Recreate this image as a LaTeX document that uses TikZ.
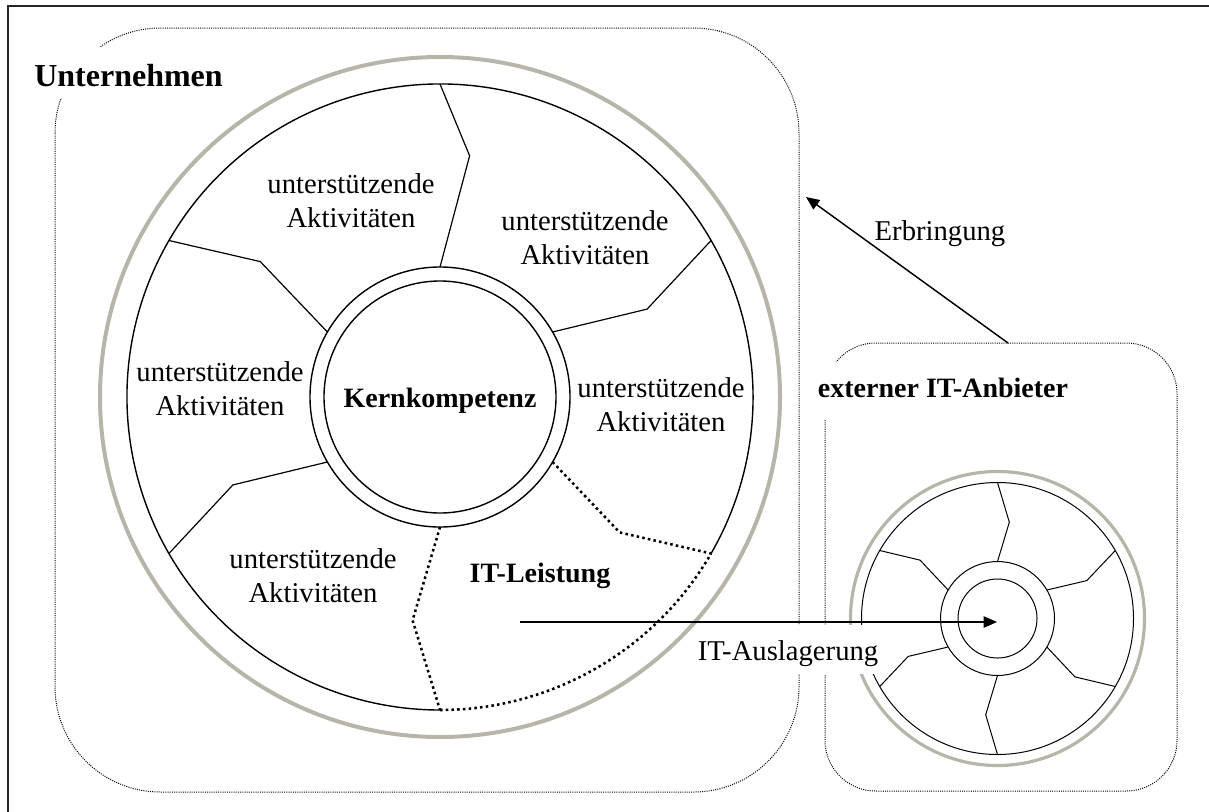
\documentclass[tikz,border=0pt]{standalone}
\usepackage{fontspec}
\setmainfont{Liberation Serif}
\usetikzlibrary{arrows.meta}
\definecolor{ringgray}{RGB}{183,181,170}
\tikzset{
  frameline/.style={draw=black!85, line width=1.5pt},
  boxdots/.style={draw=black, line width=0.75pt, dash pattern=on 0.75pt off 0.9pt},
  itdots/.style={draw=black, line width=1.9pt, dash pattern=on 1.9pt off 2.4pt},
  bigring/.style={draw=ringgray, line width=3pt},
  smallring/.style={draw=ringgray, line width=2.4pt},
  bigline/.style={draw=black, line width=1.05pt},
  smallline/.style={draw=black, line width=0.75pt},
  txt/.style={font=\fontsize{21.5pt}{25pt}\selectfont, align=center, anchor=base, inner sep=1pt},
  boldtxt/.style={txt, font=\fontsize{21pt}{25pt}\selectfont\bfseries},
  arr/.style={draw=black, line width=1.1pt, -{Triangle[length=10pt,width=8.5pt]}},
}
\begin{document}
\begin{tikzpicture}[x=0.75pt, y=-0.75pt]
\useasboundingbox (0,0) rectangle (1209,811);
\clip (0,0) rectangle (1209,811);

% outer frame
\draw[frameline] (8,6) rectangle (1240,840);

% company and provider boundaries
\draw[boxdots, rounded corners=79pt] (55,28) rectangle (799,792);
\draw[boxdots, rounded corners=38pt] (825,343) rectangle (1177,791);

% company wheel
\begin{scope}[shift={(440,397)}, yscale=-1]
  \draw[bigring] (0,0) circle[radius=340];
  \draw[bigline] (-30:313) arc[start angle=-30, end angle=270, radius=313];
  \draw[itdots] (-90:313) arc[start angle=-90, end angle=-30, radius=313];
  \draw[bigline] (0,0) circle[radius=130];
  \draw[bigline] (0,0) circle[radius=116];
  \draw[bigline, line width=0.9pt] (90:130) -- (83:243) -- (90:313);
  \foreach \a in {30,150,-150}
    \draw[bigline, line width=0.9pt] (\a:130) -- ({\a-7}:225) -- (\a:313);
  \foreach \a in {-30,-90}
    \draw[itdots] (\a:130) -- ({\a-7}:225) -- (\a:313);
\end{scope}

% provider wheel
\begin{scope}[shift={(997.5,618.5)}, yscale=-1]
  \draw[smallring] (0,0) circle[radius=147];
  \draw[smallline] (0,0) circle[radius=136];
  \draw[smallline] (0,0) circle[radius=57];
  \draw[smallline] (0,0) circle[radius=39.5];
  \foreach \a in {90,30,-30,-90,-150,150}
    \draw[smallline] (\a:57) -- ({\a-7}:97) -- (\a:136);
\end{scope}

% labels
\node[boldtxt, font=\fontsize{24pt}{28pt}\selectfont\bfseries, fill=white,
      inner xsep=3pt, inner ysep=9pt, text height=20pt] (unternehmen) at (128.5,86) {Unternehmen};
\node[boldtxt, fill=white, inner xsep=3pt, inner ysep=4pt, text height=22pt, text depth=13pt] (anbieter) at (943,397) {externer IT-Anbieter};
\node[boldtxt] (kern) at (440,407) {Kernkompetenz};
\node[boldtxt] (itl) at (540,582) {IT-Leistung};
\node[txt] (uaTL) at (351,227) {unterstützende\\Aktivitäten};
\node[txt] (uaTR) at (585,264) {unterstützende\\Aktivitäten};
\node[txt] (uaL) at (220,415) {unterstützende\\Aktivitäten};
\node[txt] (uaR) at (661,431) {unterstützende\\Aktivitäten};
\node[txt] (uaBL) at (313,602) {unterstützende\\Aktivitäten};
\node[txt] (erbringung) at (940,240) {Erbringung};
\node[txt, fill=white, inner xsep=2pt, inner ysep=6pt, text height=20pt] (auslagerung) at (788,660) {IT-Auslagerung};

% flows between company and provider
\coordinate (auslStart) at (520,622);
\coordinate (extCore) at (997,622);
\draw[arr] (auslStart) -- (extCore);
\coordinate (extTop) at (1008,343);
\coordinate (untEdge) at (806,197);
\draw[arr] (extTop) -- (untEdge);
\end{tikzpicture}
\end{document}
